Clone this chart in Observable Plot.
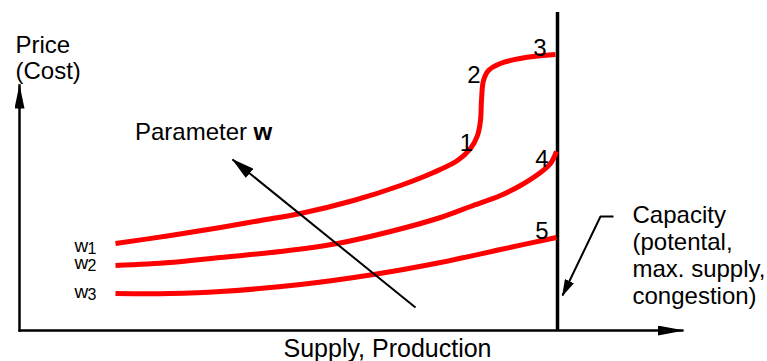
<!DOCTYPE html>
<html><head><meta charset="utf-8">
<script src="https://cdn.jsdelivr.net/npm/d3@7"></script>
<script src="https://cdn.jsdelivr.net/npm/@observablehq/plot@0.6"></script>
<style>body{margin:0;background:#fff}</style>
</head><body><div id="chart"></div>
<script>
// Supply (x) / price (y) in arbitrary units, origin at the axes' crossing
const curveW1 = [[96,87],[151,95],[201,103],[241,110],[281,117],[334,130],[381,145],[414,158],[438,170],[451,182],[458,195],[461,210],[462,230],[464,250],[469,260],[481,267],[506,273],[536,276]];
const curveW2 = [[96,65],[151,68],[201,73],[261,79],[318,87],[371,99],[421,113],[451,124],[481,135],[501,145],[521,158],[531,167],[537,179]];
const curveW3 = [[96,37],[151,37],[201,39],[281,46],[354,56],[421,68],[481,81],[537,93]];
const capacity = 538;
const capacityTop = 318;
const xAxisEnd = 664;
const yAxisEnd = 245;
const paramArrow = [[396,23],[213,171]];
const capacityArrow = [[594,114],[581,114],[543,35]];

const pointLabels = ["1","2","3","4","5"];
const pointLabelX = [447,454.5,520.5,522.5,522.5];
const pointLabelY = [180,248,275,164,92];

const wNames = ["w","w","w"];
const wSubs = ["1","2","3"];
const wLabelY = [79,62,33];
const wSubY = [77,60,31];

const yTitle = "Price\n(Cost)";
const xTitle = "Supply, Production";
const paramText = "Parameter ";
const paramBold = "w";
const capacityText = "Capacity\n(potental,\nmax. supply,\ncongestion)";

const pts = (arr) => arr.map(([x, y]) => ({x, y}));

const head = (L, hw) => (color) => {
  const m = d3.create("svg:marker")
    .attr("viewBox", `${-L} ${-hw} ${L + 1} ${2 * hw}`)
    .attr("markerWidth", L + 1).attr("markerHeight", 2 * hw)
    .attr("refX", 0).attr("refY", 0)
    .attr("markerUnits", "userSpaceOnUse")
    .attr("orient", "auto");
  m.append("path").attr("d", `M${-L},${-hw}L1,0L${-L},${hw}Z`).attr("fill", color).attr("stroke", "none");
  return m.node();
};

const font = "Liberation Sans, Arial, Helvetica, sans-serif";

const plot = Plot.plot({
  width: 767, height: 361, margin: 0,
  x: {domain: [-19, 748], axis: null},
  y: {domain: [-31, 330], axis: null},
  style: {fontFamily: font, background: "white", color: "black"},
  marks: [
    // axes
    Plot.line(pts([[0,0],[0,yAxisEnd]]), {x: "x", y: "y", stroke: "black", strokeWidth: 2.5, strokeLinecap: "square", markerEnd: head(23, 5)}),
    Plot.line(pts([[-1,0],[xAxisEnd,0]]), {x: "x", y: "y", stroke: "black", strokeWidth: 2.5, strokeLinecap: "butt", markerEnd: head(26, 5)}),
    // capacity line
    Plot.ruleX([capacity], {y1: 0, y2: capacityTop, stroke: "black", strokeWidth: 3.5}),
    // supply curves
    Plot.line(pts(curveW1), {x: "x", y: "y", stroke: "#ff0000", strokeWidth: 5, curve: "catmull-rom", strokeLinecap: "butt"}),
    Plot.line(pts(curveW2), {x: "x", y: "y", stroke: "#ff0000", strokeWidth: 5, curve: "catmull-rom", strokeLinecap: "butt"}),
    Plot.line(pts(curveW3), {x: "x", y: "y", stroke: "#ff0000", strokeWidth: 5, curve: "catmull-rom", strokeLinecap: "butt"}),
    // arrows
    Plot.line(pts(paramArrow), {x: "x", y: "y", stroke: "black", strokeWidth: 2, strokeLinecap: "butt", markerEnd: head(22, 6)}),
    Plot.line(pts(capacityArrow), {x: "x", y: "y", stroke: "black", strokeWidth: 2, strokeLinecap: "butt", strokeLinejoin: "miter", markerEnd: head(16, 5)}),
    // texts
    Plot.text([yTitle], {x: -4, y: 252, text: d => d, textAnchor: "start", lineAnchor: "bottom", lineHeight: 1.083, fontSize: 24, fill: "black"}),
    Plot.text([xTitle], {x: 368, y: -26, text: d => d, textAnchor: "middle", lineAnchor: "bottom", fontSize: 25, fill: "black"}),
    Plot.text([paramText], {x: 115.5, y: 191, text: d => d, textAnchor: "start", lineAnchor: "bottom", fontSize: 24, fill: "black"}),
    Plot.text([paramBold], {x: 234, y: 191, text: d => d, textAnchor: "start", lineAnchor: "bottom", fontSize: 24, fontWeight: "bold", fill: "black"}),
    Plot.text([capacityText], {x: 613, y: 27, text: d => d, textAnchor: "start", lineAnchor: "bottom", lineHeight: 1.125, fontSize: 24, fill: "black"}),
    Plot.text(pointLabels, {x: (d, i) => pointLabelX[i], y: (d, i) => pointLabelY[i], text: d => d, textAnchor: "middle", lineAnchor: "bottom", fontSize: 24, fill: "black"}),
    Plot.text(wNames, {x: 55, y: (d, i) => wLabelY[i], text: d => d, textAnchor: "start", lineAnchor: "bottom", fontSize: 19, fill: "black"}),
    Plot.text(wSubs, {x: 68, y: (d, i) => wSubY[i], text: d => d, textAnchor: "start", lineAnchor: "bottom", fontSize: 16, fill: "black"})
  ]
});
document.getElementById("chart").append(plot);
</script>
</body></html>
